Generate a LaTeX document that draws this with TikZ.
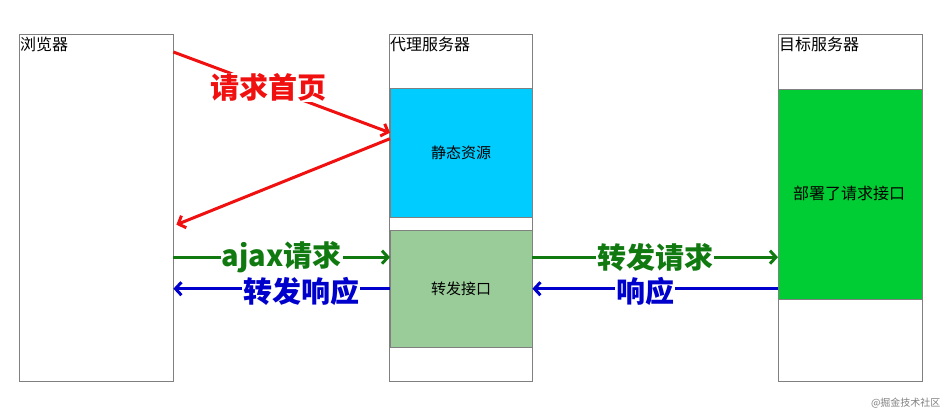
\documentclass[tikz,border=0pt]{standalone}
\usepackage{fontspec}
\setmainfont{Noto Sans CJK SC}
\usetikzlibrary{arrows.meta}

\definecolor{boxgray}{HTML}{808080}
\definecolor{staticblue}{HTML}{00CCFF}
\definecolor{fwdgreen}{HTML}{99CC99}
\definecolor{apigreen}{HTML}{00CC33}
\definecolor{reqred}{HTML}{F01010}
\definecolor{reqgreen}{HTML}{107A10}
\definecolor{resblue}{HTML}{0000CC}

\begin{document}
\begin{tikzpicture}[x=1pt,y=-1pt]
	\useasboundingbox (0,0) rectangle (950,414);

	\begin{scope}[every node/.style={draw=boxgray,anchor=north west,inner sep=0pt,font=\fontsize{15}{18}\selectfont}]
		\node[minimum width=154pt,minimum height=347pt] (browser) at (19,34) {};
		\node[minimum width=143pt,minimum height=347pt] (proxy) at (389,34) {};
		\node[minimum width=144pt,minimum height=347pt] (target) at (778,34) {};
		\node[fill=staticblue,minimum width=142pt,minimum height=129pt] (static) at (390,88) {静态资源};
		\node[fill=fwdgreen,minimum width=142pt,minimum height=117pt] (fwd) at (390,230) {转发接口};
		\node[fill=apigreen,minimum width=144pt,minimum height=210pt] (api) at (778,89) {};
	\end{scope}

	\begin{scope}[every node/.style={anchor=north west,inner sep=1pt,font=\fontsize{16}{19}\selectfont}]
		\node (browsertitle) at ([yshift=-2pt]browser.north west) {浏览器};
		\node (proxytitle) at ([yshift=-2pt]proxy.north west) {代理服务器};
		\node (targettitle) at ([yshift=-2pt]target.north west) {目标服务器};
		\node (apitext) at ([xshift=14pt,yshift=-96pt]api.north west) {部署了请求接口};
	\end{scope}

	\begin{scope}[>={Straight Barb[length=6pt,width=13pt]},
		every node/.style={fill=white,inner sep=1pt,font=\fontsize{29}{33}\bfseries},
		every edge/.style={draw,line width=3pt}]
		\path [->,reqred] ([yshift=-18pt]browser.north east) edge node[pos=0.44] {请求首页} ([yshift=20pt]static.west);
		\path [->,reqred] ([yshift=14pt]static.west) edge ([xshift=3pt,yshift=-17pt]browser.east);

		\path [->,reqgreen] ([yshift=31.5pt]fwd.west -| browser.east) edge node {ajax请求} ([yshift=31.5pt]fwd.west);
		\path [->,resblue] (fwd.west) edge node[pos=0.41,yshift=-3pt] {转发响应} (fwd.west -| browser.east);

		\path [->,reqgreen] ([yshift=31.5pt]fwd.east) edge node {转发请求} ([yshift=31.5pt]fwd.east -| api.west);
		\path [->,resblue] (fwd.east -| api.west) edge node[pos=0.54,yshift=-3pt] {响应} (fwd.east);
	\end{scope}

	\node[anchor=east,text=gray,font=\fontsize{10}{11}\selectfont] (mark) at (944,403) {@掘金技术社区};
\end{tikzpicture}
\end{document}
